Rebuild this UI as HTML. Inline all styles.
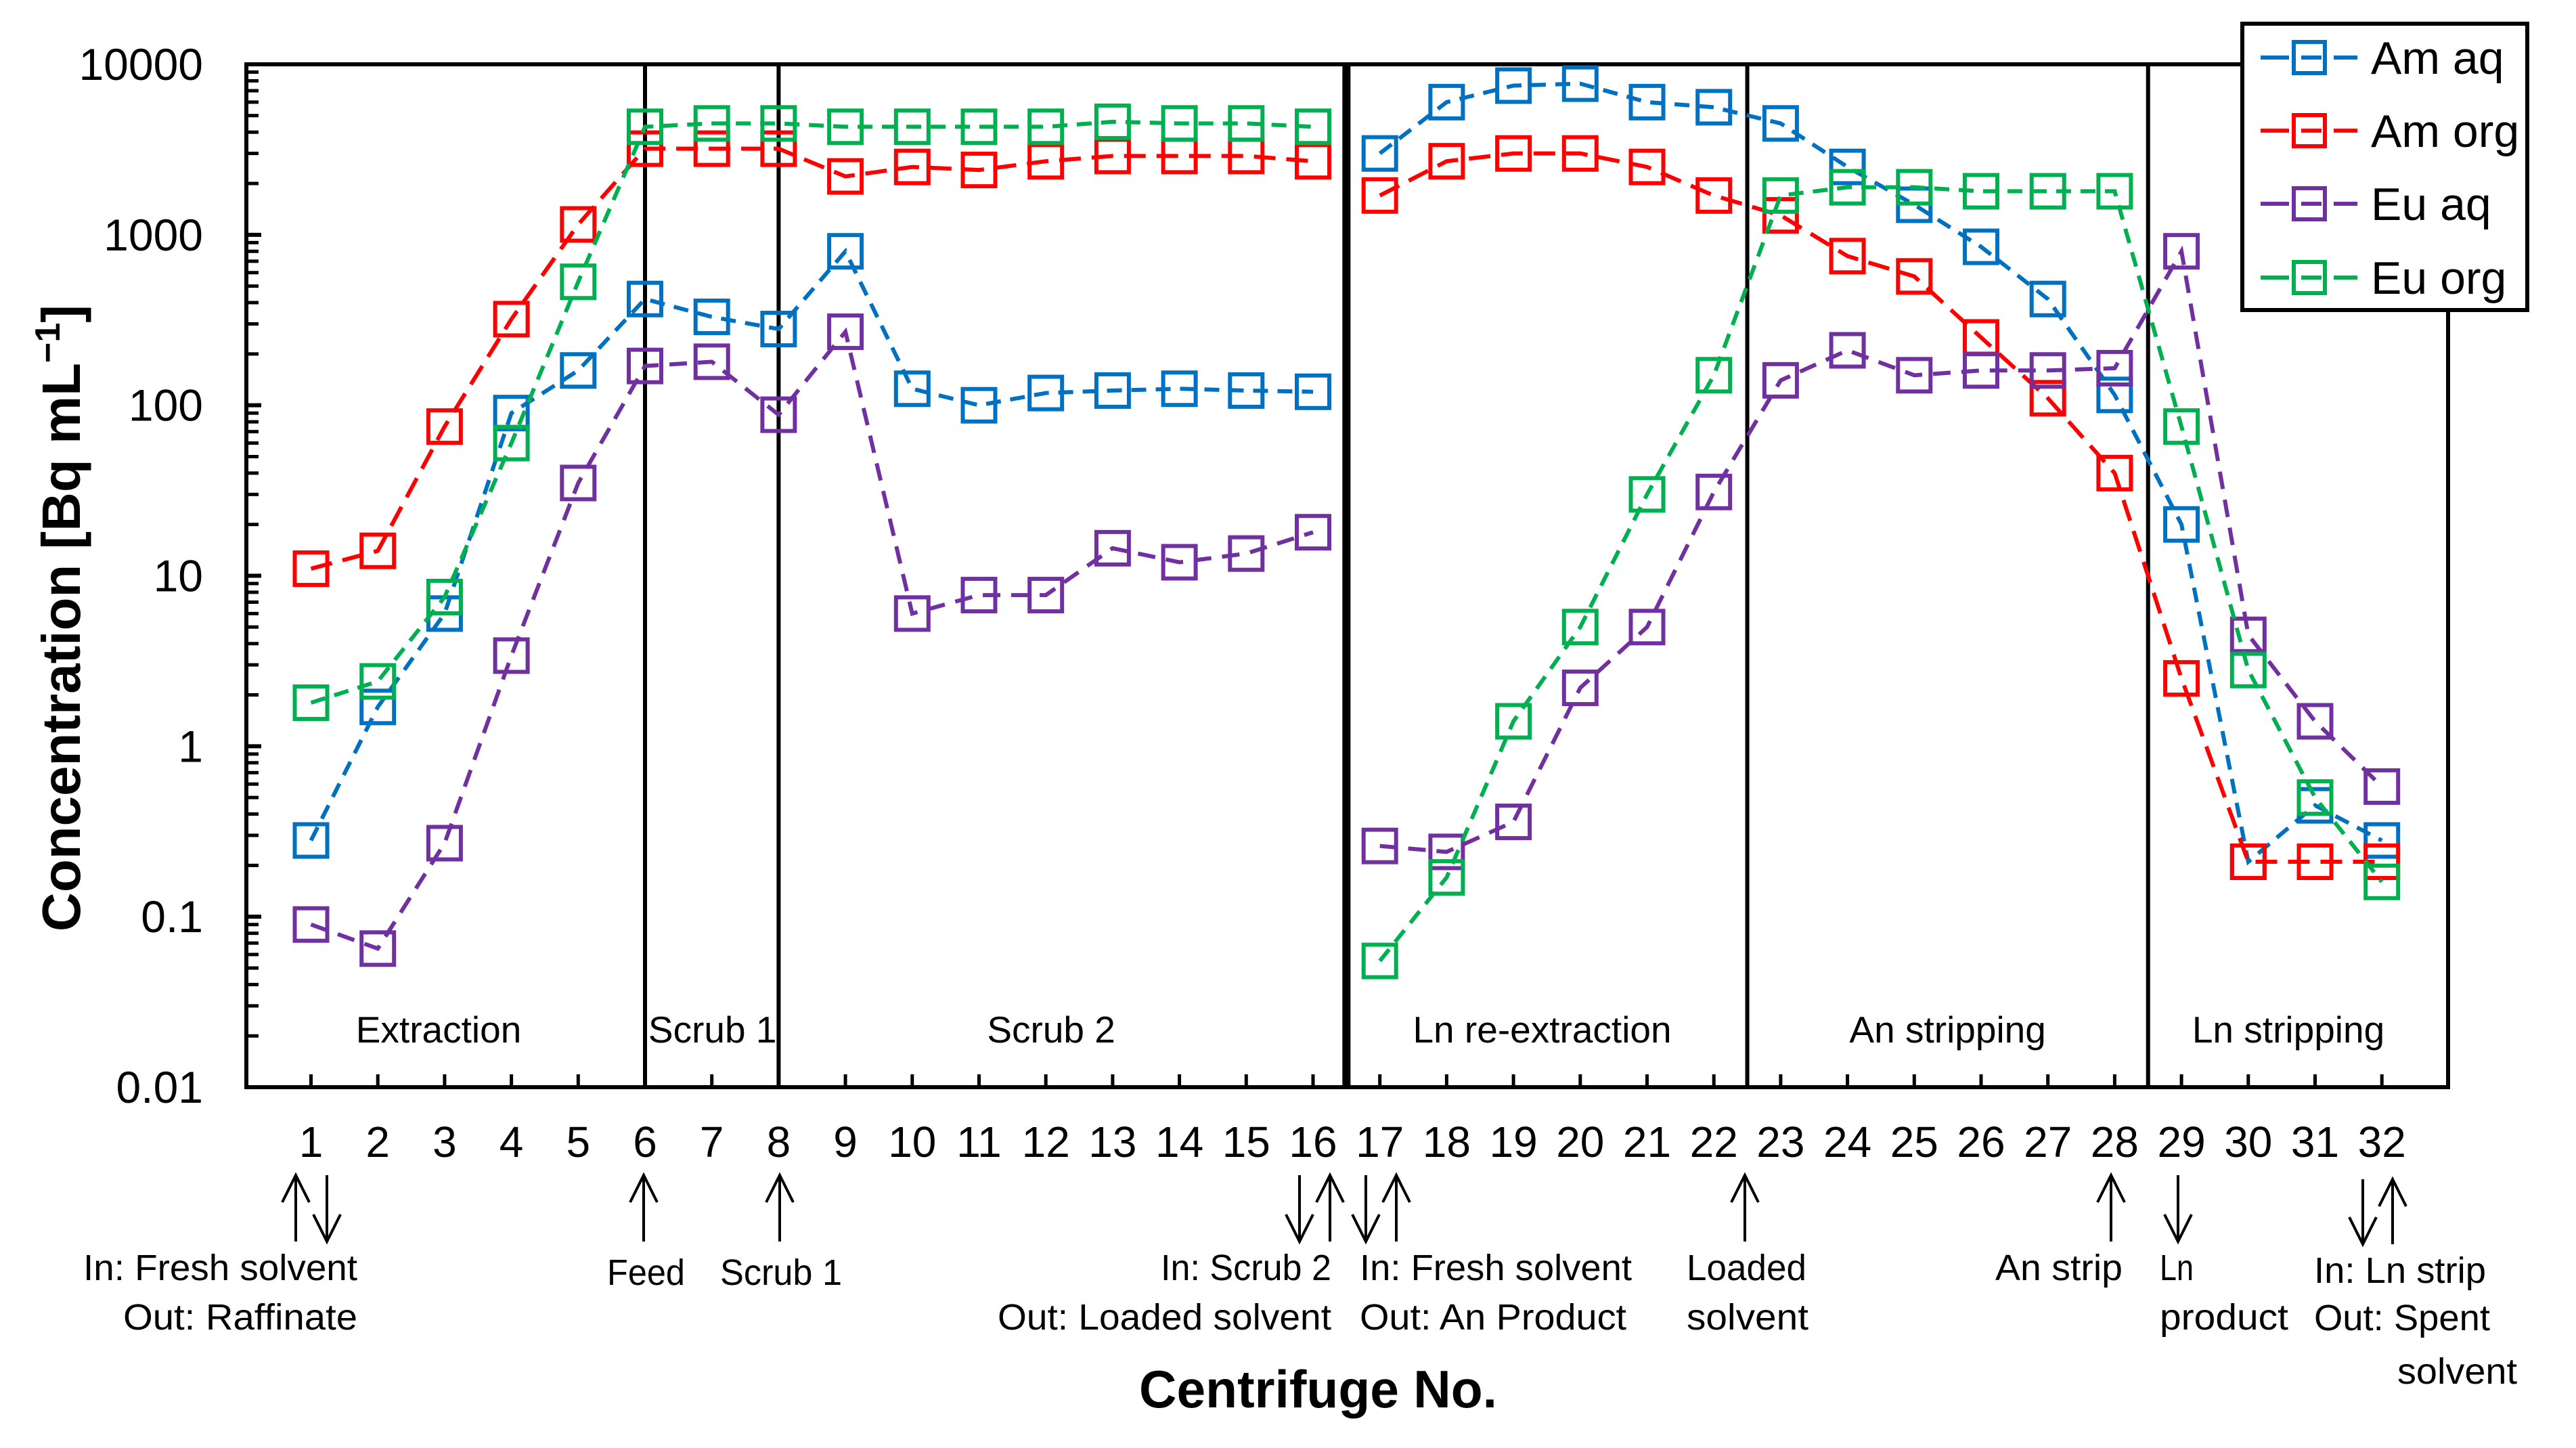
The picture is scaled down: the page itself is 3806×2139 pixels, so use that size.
<!DOCTYPE html>
<html><head><meta charset="utf-8"><style>
html,body{margin:0;padding:0;background:#fff}
svg{display:block}
text{font-family:"Liberation Sans",sans-serif}
</style></head><body>
<svg id="chart" width="3806" height="2139" viewBox="0 0 3806 2139" xmlns="http://www.w3.org/2000/svg">
</svg>
<script>
const centrifuges = [1,2,3,4,5,6,7,8,9,10,11,12,13,14,15,16,17,18,19,20,21,22,23,24,25,26,27,28,29,30,31,32];
const amAq = [0.28,1.7,6,90,160,420,330,280,800,125,100,118,122,125,122,120,3000,6000,7500,7700,6000,5600,4500,2500,1500,850,420,115,20,0.21,0.45,0.28];
const amOrg = [11,14,75,320,1150,3200,3200,3200,2200,2500,2400,2700,2900,2900,2900,2700,1700,2700,3000,3000,2500,1700,1300,750,570,250,110,40,2.5,0.21,0.21,0.21];
const euAq = [0.09,0.065,0.27,3.4,35,170,180,88,270,6,7.7,7.7,14.5,12,13.5,18,0.26,0.24,0.36,2.2,5,31,140,210,150,160,160,165,800,4.5,1.4,0.58];
const euOrg = [1.8,2.4,7.5,60,530,4300,4500,4500,4300,4300,4300,4300,4600,4500,4500,4300,0.055,0.17,1.4,5,30,150,1700,1900,1900,1800,1800,1800,75,2.8,0.5,0.16];
const yTicks = [10000,1000,100,10,1,0.1,0.01];
const yTickLabels = ["10000","1000","100","10","1","0.1","0.01"];
const seriesNames = ["Am aq","Am org","Eu aq","Eu org"];
const lineBreakAfter = [16];
const sectionBounds = [6,8,16.5,22.5,28.5];
const sectionLabels = ["Extraction","Scrub 1","Scrub 2","Ln re-extraction","An stripping","Ln stripping"];
const sectionCenters = [2.91,7.01,12.08,19.43,25.5,30.6];

const NS="http://www.w3.org/2000/svg";
const svg=document.getElementById('chart');
const L=364,R=3617,T=95,B=1606;
function xs(i){return 459.5+(i-1)*98.7;}
function ys(v){return T+(4-Math.log10(v))*(B-T)/6;}
function el(tag,attrs,parent){const e=document.createElementNS(NS,tag);for(const k in attrs)e.setAttribute(k,attrs[k]);(parent||svg).appendChild(e);return e;}
function txt(s,attrs){const e=el('text',attrs);e.textContent=s;return e;}

let f=el('rect',{x:L,y:T,width:R-L,height:B-T,fill:'none',stroke:'#000','stroke-width':6});


yTicks.forEach((v,k)=>{
  const y=ys(v);
  let t=el('line',{x1:L,x2:L+22,y1:y,y2:y,stroke:'#000','stroke-width':6});
  
  
  if(k<yTicks.length-1){for(let m=2;m<=9;m++){const ym=ys(v/10*m);
    let mt=el('line',{x1:L,x2:L+18,y1:ym,y2:ym,stroke:'#000','stroke-width':5});
    
    }}
  let lb=txt(yTickLabels[k],{x:300,y:y+23,'font-size':66,'text-anchor':'end'});
  
  
});
centrifuges.forEach(c=>{
  const x=xs(c);
  let t=el('line',{x1:x,x2:x,y1:B,y2:B-19,stroke:'#000','stroke-width':5});
  
  
  let lb=txt(String(c),{x:x,y:1709,'font-size':64,'text-anchor':'middle'});
  
  
});
sectionBounds.forEach((b,k)=>{
  let l=el('line',{x1:xs(b),x2:xs(b),y1:T,y2:B,stroke:'#000','stroke-width':k==2?12:6});
  
  
});
sectionLabels.forEach((s,k)=>{
  let lb=txt(s,{x:xs(sectionCenters[k]),y:1540,'font-size':55,'text-anchor':'middle'});
  
  
});
const colors=['#0070C0','#FF0000','#7030A0','#00B050'];
const dashes=['22 14','32 16','26 16','22 14'];
const allSeries=[amAq,amOrg,euAq,euOrg];
allSeries.forEach((vals,s)=>{
  const g=el('g',{});
  
  
  let segs=[[]];
  vals.forEach((v,i)=>{
    segs[segs.length-1].push(xs(centrifuges[i])+','+ys(v));
    if(lineBreakAfter.includes(centrifuges[i])) segs.push([]);
  });
  segs.forEach(sg=>{
    let pl=el('polyline',{points:sg.join(' '),fill:'none',stroke:colors[s],'stroke-width':6,'stroke-dasharray':dashes[s]},g);
    
    
  });
  vals.forEach((v,i)=>{
    let m=el('rect',{x:xs(centrifuges[i])-24,y:ys(v)-24,width:48,height:48,fill:'none',stroke:colors[s],'stroke-width':6},g);
    
    
  });
});
let lg=el('rect',{x:3313,y:35,width:421,height:423,fill:'#fff',stroke:'#000','stroke-width':6});


[85,193,301,410].forEach((y,s)=>{
  let ln=el('line',{x1:3340,x2:3483,y1:y,y2:y,stroke:colors[s],'stroke-width':6,'stroke-dasharray':'42 18 30 18 40'});
  
  
  let mk=el('rect',{x:3389,y:y-23,width:46,height:46,fill:'none',stroke:colors[s],'stroke-width':6});
  
  
  let lb=txt(seriesNames[s],{x:3503,y:y+24,'font-size':68});
  
  
});
function arrow(x,y1,y2,up){
  const g=el('g',{stroke:'#000','stroke-width':4,fill:'none'});
  
  
  el('line',{x1:x,x2:x,y1:y1,y2:y2},g);
  if(up) el('polyline',{points:(x-20)+','+(y1+40)+' '+x+','+y1+' '+(x+20)+','+(y1+40)},g);
  else el('polyline',{points:(x-20)+','+(y2-40)+' '+x+','+y2+' '+(x+20)+','+(y2-40)},g);
}
arrow(437,1736,1834,true);arrow(483,1736,1834,false);
arrow(951,1736,1834,true);arrow(1152,1736,1834,true);
arrow(1920,1736,1834,false);arrow(1965,1736,1834,true);
arrow(2018,1736,1834,false);arrow(2063,1736,1834,true);
arrow(2578,1736,1834,true);arrow(3119,1736,1834,true);arrow(3218,1736,1834,false);
arrow(3491,1742,1838,false);arrow(3535,1742,1838,true);
const ann=[
 ["In: Fresh solvent",123,1891,405],["Out: Raffinate",182,1964,346],
 ["Feed",897,1898,115],["Scrub 1",1064,1898,180],
 ["In: Scrub 2",1715,1891,252],["Out: Loaded solvent",1474,1964,493],
 ["In: Fresh solvent",2009,1891,402],["Out: An Product",2009,1964,394],
 ["Loaded",2492,1891,177],["solvent",2492,1964,180],
 ["An strip",2948,1891,188],["Ln",3191,1891,50],["product",3191,1964,190],
 ["In: Ln strip",3419,1895,254],["Out: Spent",3419,1965,260],["solvent",3542,2044,177]
];
ann.forEach(a=>{
  let t=txt(a[0],{x:a[1],y:a[2],'font-size':54,textLength:a[3],lengthAdjust:'spacingAndGlyphs'});
  
  
});
let xt=txt("Centrifuge No.",{x:1683,y:2079,'font-size':78,'font-weight':'bold',textLength:529,lengthAdjust:'spacingAndGlyphs'});


const yt=el('text',{transform:'translate(118,913) rotate(-90)','text-anchor':'middle','font-size':80,'font-weight':'bold'});


yt.innerHTML='Concentration [Bq mL<tspan dy="-30" font-size="52">−1</tspan><tspan dy="30">]</tspan>';
</script>
</body></html>
